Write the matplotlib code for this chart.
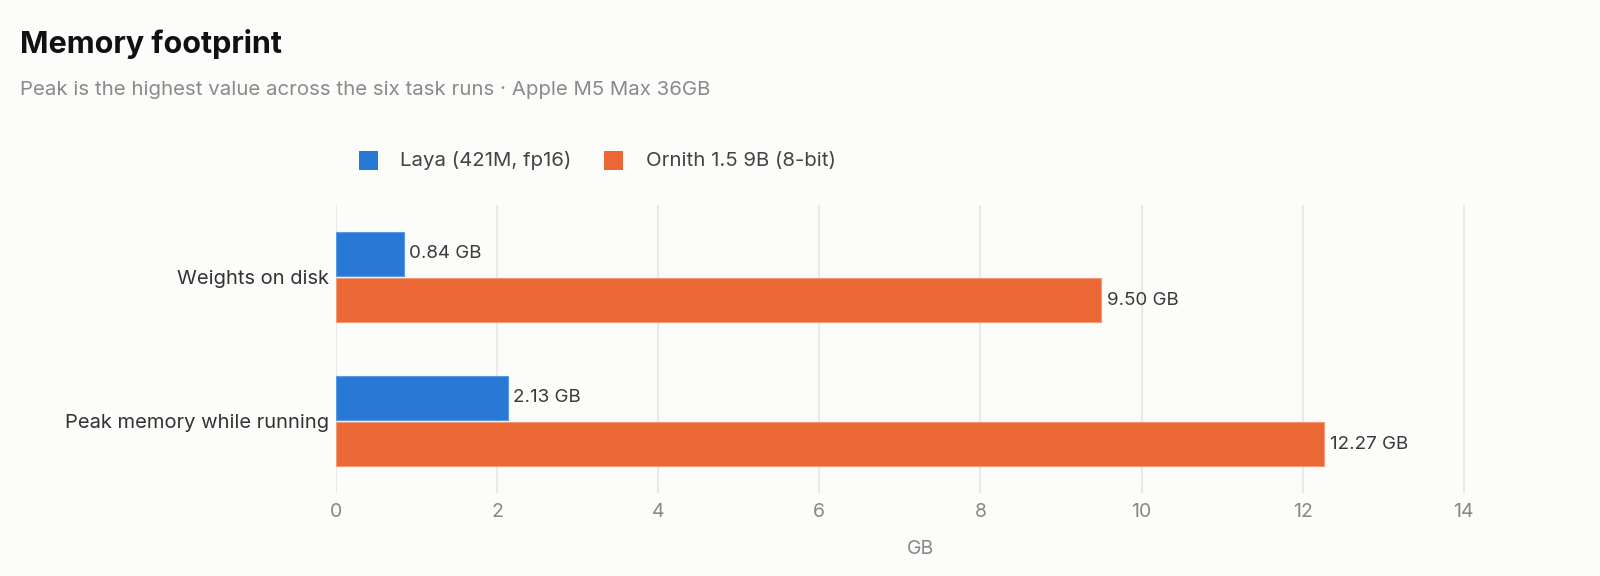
import matplotlib
matplotlib.use("Agg")
import matplotlib.pyplot as plt
from matplotlib.patches import Rectangle
import numpy as np

categories = ["Weights on disk", "Peak memory while running"]
series_names = ["Laya (421M, fp16)", "Ornith 1.5 9B (8-bit)"]
laya = [0.84, 2.13]
ornith = [9.50, 12.27]
x_ticks = [0, 2, 4, 6, 8, 10, 12, 14]

BG = "#fcfcfa"
BLUE = "#2878d6"
ORANGE = "#eb6834"

plt.rcParams['font.family'] = ['Inter', 'DejaVu Sans']

fig = plt.figure(figsize=(16, 5.76), dpi=100, facecolor=BG)
ax = fig.add_axes([0.21, 0.1441, 0.73, 0.5])
ax.set_facecolor(BG)

y = np.arange(len(categories))
h = 0.305
off = 0.162
b1 = ax.barh(y - off, laya, height=h, color=BLUE, edgecolor="#5a9be6", linewidth=0.8, zorder=3)
b2 = ax.barh(y + off, ornith, height=h, color=ORANGE, edgecolor="#f29a76", linewidth=0.8, zorder=3)

for bars, vals in ((b1, laya), (b2, ornith)):
    for bar, v in zip(bars, vals):
        ax.annotate(f"{v:.2f} GB", (v, bar.get_y() + bar.get_height() / 2),
                    xytext=(4, 0), textcoords="offset points",
                    ha="left", va="center", fontsize=13.5, color="#3a3a3a")

ax.set_xlim(0, 14.5)
ax.set_ylim(1.5, -0.5)
ax.set_xticks(x_ticks)
ax.set_xticklabels([str(t) for t in x_ticks])
ax.set_yticks(y)
ax.set_yticklabels(categories)
ax.tick_params(axis='x', length=0, pad=7, labelsize=14, labelcolor="#888888")
ax.tick_params(axis='y', length=0, pad=5, labelsize=14.5, labelcolor="#333333")
ax.grid(axis='x', color="#e6e6e4", linewidth=1.2, zorder=0)
for s in ax.spines.values():
    s.set_visible(False)
ax.set_xlabel("GB", fontsize=14, color="#888888", labelpad=14)

fig.text(20 / 1600, 1 - 44 / 576, "Memory footprint", fontsize=22, fontweight="bold",
         color="#111111", ha="left", va="center")
fig.text(20 / 1600, 1 - 90 / 576, "Peak is the highest value across the six task runs \u00b7 Apple M5 Max 36GB",
         fontsize=14.7, color="#8a8a8a", ha="left", va="center")

# legend
legend_items = [(359, BLUE, series_names[0], 400), (604, ORANGE, series_names[1], 646)]
for xpx, col, name, txpx in legend_items:
    fig.patches.append(Rectangle((xpx / 1600, 1 - 170 / 576), 19 / 1600, 19 / 576,
                                 transform=fig.transFigure, facecolor=col, edgecolor="none"))
    fig.text(txpx / 1600, 1 - 161 / 576, name, fontsize=14.7, color="#444444",
             ha="left", va="center")

fig.savefig("out.png", dpi=100, facecolor=BG)
